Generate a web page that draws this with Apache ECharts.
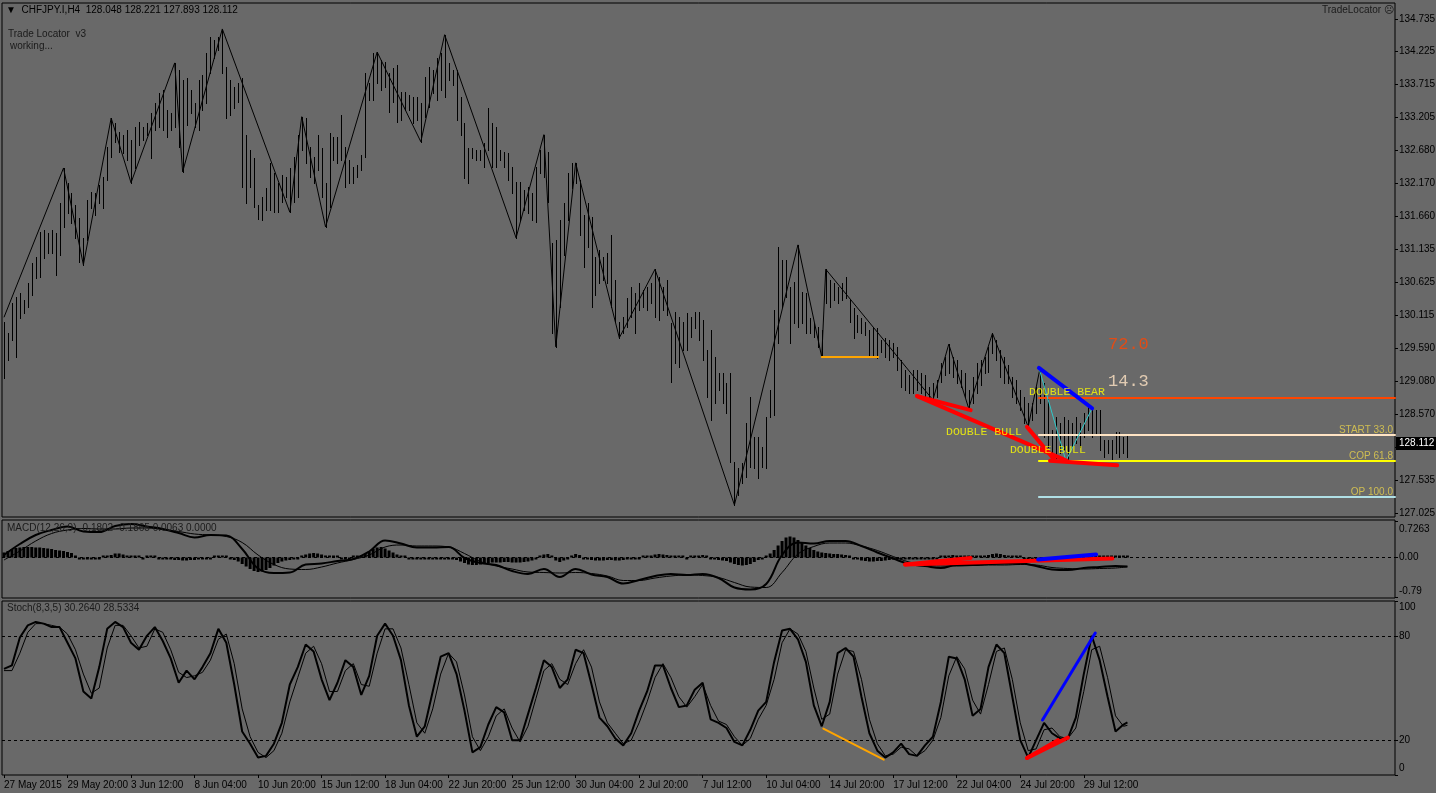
<!DOCTYPE html>
<html>
<head>
<meta charset="UTF-8">
<title>CHFJPY.I,H4</title>
<script src="https://cdn.jsdelivr.net/npm/echarts@6.0.0/dist/echarts.min.js"></script>
<style>
html, body { margin: 0; padding: 0; background: #696969; }
#main { width: 1436px; height: 793px; }
</style>
</head>
<body>
<div id="main"></div>
<script type="text/javascript">
// ---- price bars (H4), one entry per bar ----
var barHigh = [
130.01,129.83,130.30,130.40,130.46,130.35,130.62,130.93,131.02,131.41,
131.44,131.40,131.44,131.40,131.86,132.41,132.18,132.02,131.83,131.63,
131.32,131.91,132.04,132.02,132.14,132.27,132.74,133.19,133.11,132.97,
132.93,133.00,132.85,133.05,133.13,133.05,133.11,133.27,133.42,133.58,
133.63,133.32,133.27,134.05,133.94,133.78,133.81,133.63,133.42,133.78,
133.86,134.20,134.45,134.41,134.45,134.58,133.99,133.78,133.67,133.74,
133.81,132.93,132.69,132.57,131.83,131.96,132.10,132.49,132.33,132.18,
132.30,132.27,132.41,132.58,132.93,133.21,133.19,132.74,132.58,132.93,
132.72,132.18,132.96,132.89,132.89,133.24,132.74,132.53,132.43,132.46,
132.61,133.89,133.74,134.20,134.22,134.10,134.06,133.89,133.97,134.02,
133.60,133.60,133.55,133.52,133.52,133.42,133.83,133.99,133.94,134.13,
134.20,134.49,134.05,133.94,133.94,133.52,133.11,132.72,132.72,132.69,
132.69,132.80,133.35,133.11,133.05,132.69,132.66,132.64,132.43,132.19,
132.19,132.07,132.11,132.02,132.43,132.69,132.93,132.66,131.24,131.29,
131.60,131.86,132.33,132.49,132.49,132.22,131.68,131.86,131.64,131.02,
131.13,131.02,131.08,131.36,130.66,130.01,130.08,130.38,130.55,130.46,
130.62,130.51,130.55,130.62,130.83,130.71,130.55,130.66,129.99,130.16,
130.08,130.01,130.15,130.08,130.16,130.16,130.04,129.57,129.88,129.46,
129.21,129.21,129.05,129.21,127.82,127.73,127.81,128.43,128.84,128.21,
128.21,128.05,128.52,128.95,130.19,131.18,130.97,130.97,130.55,130.63,
131.21,130.47,130.46,130.07,129.99,129.93,129.88,130.83,130.66,130.62,
130.55,130.62,130.71,130.35,130.22,130.12,130.07,130.01,129.88,129.91,
129.91,129.73,129.76,129.73,129.68,129.62,129.41,129.26,129.18,129.26,
129.26,129.21,129.18,128.99,129.05,129.10,129.37,129.46,129.66,129.46,
129.41,129.26,129.21,128.95,129.15,129.37,129.41,129.46,129.62,129.83,
129.73,129.57,129.46,129.34,129.15,129.10,128.95,128.84,128.74,128.74,
128.99,129.29,129.05,128.84,128.32,128.52,128.43,128.52,128.48,128.43,
128.52,128.43,128.59,128.68,128.68,128.63,128.63,128.16,128.16,128.16,
128.29,128.29,128.21,128.221
];
var barLow = [
129.13,129.41,129.73,129.46,130.07,130.15,130.24,130.43,130.69,130.71,
131.01,131.08,131.08,130.74,131.05,131.49,131.71,131.55,131.32,130.94,
130.90,131.29,131.79,131.68,131.86,131.79,132.22,132.58,132.82,132.66,
132.64,132.53,132.18,132.41,132.77,132.85,132.93,132.57,133.00,133.05,
133.00,132.89,133.00,133.05,132.74,132.35,133.08,133.27,133.05,133.00,
133.32,133.42,133.89,134.13,134.25,133.89,133.19,133.24,133.35,133.44,
132.11,131.86,132.11,131.80,131.62,131.60,131.75,131.75,131.72,131.72,
131.88,131.96,131.72,131.88,131.96,132.69,132.49,132.27,132.18,132.38,
131.96,131.49,131.80,132.53,132.49,132.53,132.11,132.18,132.18,132.27,
132.38,132.58,133.47,133.47,133.74,133.63,133.67,133.28,133.44,133.13,
133.16,133.32,133.32,133.11,133.16,132.82,133.21,133.36,133.58,133.47,
133.63,133.52,133.78,133.71,133.16,132.93,132.25,132.18,132.57,132.53,
132.53,132.43,132.69,132.43,132.43,132.53,132.43,132.22,132.02,131.32,
131.60,131.75,131.71,131.60,131.57,132.33,132.27,131.88,129.83,129.62,
130.24,131.05,131.60,132.10,132.18,131.36,130.87,131.18,130.24,130.43,
130.62,130.66,130.62,130.24,130.01,129.76,129.83,129.93,130.08,129.83,
130.19,130.24,130.19,130.30,130.08,130.04,130.19,130.12,129.07,129.37,
129.30,129.57,129.57,129.77,129.91,129.73,129.41,128.84,128.48,128.74,
128.95,128.74,128.59,127.82,127.15,127.31,127.49,127.59,127.74,127.73,
127.57,127.74,127.73,128.52,128.55,129.68,130.24,130.40,129.68,129.99,
129.93,129.99,129.83,129.83,129.77,129.62,129.46,130.30,130.24,130.35,
130.30,130.35,130.38,130.01,129.76,129.85,129.83,129.80,129.46,129.46,
129.44,129.54,129.46,129.41,129.46,129.26,128.99,128.95,128.90,128.90,
128.95,128.90,128.79,128.79,128.79,128.84,129.07,129.18,129.21,129.15,
129.05,128.99,128.84,128.66,128.74,128.90,129.02,129.21,129.23,129.52,
129.41,129.15,129.05,129.05,128.84,128.74,128.63,128.43,128.37,128.48,
128.59,128.74,128.21,128.05,127.85,127.88,127.96,128.01,127.85,128.05,
128.12,128.05,128.21,128.32,128.21,128.27,128.01,127.90,127.96,127.85,
127.96,127.90,127.96,127.893
];
var lastPrice = 128.112;

// zigzag swing points: bar index and price
var zigIdx = [0,15,20,27,32,43,45,55,72,75,81,94,105,111,129,136,139,144,155,164,184,200,206,207,234,238,243,249,258,261];
var zigPrice = [130.08,132.41,130.90,133.19,132.18,134.05,132.35,134.58,131.72,133.21,131.49,134.22,132.82,134.49,131.32,132.93,129.62,132.49,129.76,130.83,127.15,131.21,129.46,130.83,128.79,129.66,128.66,129.83,128.37,129.29];

// Trade Locator levels (start bar, prices, labels)
var levelStart = 260.7;
var levelPrices = [128.82, 128.243, 127.837, 127.275];
var levelText = ['', 'START 33.0', 'COP 61.8', 'OP 100.0'];
var levelTextPrice = [null, 128.32, 127.915, 127.353];
var orangeLevel = [[206, 129.46], [220.2, 129.46]];

// pattern lines on the price panel
var redMain = [
  [[230, 128.85], [243.5, 128.63]],
  [[230, 128.85], [267.8, 127.84]],
  [[257.7, 128.37], [264.7, 127.85]],
  [[263.5, 127.84], [280.4, 127.77]]
];
var blueMain = [[260.7, 129.29], [274.1, 128.66]];
var cyanMain = [[260.7, 129.29], [267.5, 127.84], [274.1, 128.66]];

// text notes on the price panel
var noteText = ['72.0', '14.3', 'DOUBLE BEAR', 'DOUBLE BULL', 'DOUBLE BULL'];
var noteIdx = [278.1, 278.1, 258.2, 237.3, 253.4];
var notePrice = [129.65, 129.085, 128.913, 128.29, 128.01];

// price axis tick labels
var priceTicks = [127.025,127.535,128.045,128.570,129.080,129.590,130.115,130.625,131.135,131.660,132.170,132.680,133.205,133.715,134.225,134.735];

// time axis labels, one every 16 bars
var timeLabels = ['27 May 2015','29 May 20:00','3 Jun 12:00','8 Jun 04:00','10 Jun 20:00','15 Jun 12:00','18 Jun 04:00','22 Jun 20:00','25 Jun 12:00','30 Jun 04:00','2 Jul 20:00','7 Jul 12:00','10 Jul 04:00','14 Jul 20:00','17 Jul 12:00','22 Jul 04:00','24 Jul 20:00','29 Jul 12:00'];
var timeStep = 16;

// ---- MACD(12,26,9) ----
var macdHist = [
0.10,0.13,
0.17,0.19,0.20,0.21,0.21,0.21,0.20,0.20,0.19,0.18,0.17,
0.15,0.14,0.13,0.11,0.09,
0.04,-0.02,-0.03,-0.03,-0.02,-0.02,-0.01,0.00,0.02,
0.05,0.08,0.08,0.06,
0.03,0.01,0.00,0.00,-0.01,0.00,0.01,0.00,-0.01,
-0.02,-0.03,-0.04,-0.05,-0.05,-0.06,-0.06,-0.05,-0.05,-0.04,-0.04,-0.03,-0.02,0.01,0.02,
0.02,0.00,-0.03,-0.05,-0.08,
-0.13,-0.18,-0.23,-0.27,-0.29,-0.28,-0.25,-0.21,-0.16,
-0.11,-0.08,-0.06,-0.05,-0.04,-0.03,
0.02,0.06,0.08,0.09,0.08,0.06,
0.04,0.02,0.01,0.00,-0.01,-0.02,-0.01,0.01,0.02,0.03,
0.07,0.12,0.17,0.20,0.21,0.18,0.14,0.10,
0.06,0.03,0.00,-0.02,-0.03,-0.04,-0.04,-0.04,-0.03,-0.03,-0.02,-0.02,-0.02,-0.03,-0.04,-0.05,-0.08,
-0.11,-0.14,-0.15,-0.15,-0.14,
-0.12,-0.11,-0.10,-0.10,-0.10,-0.09,-0.09,-0.10,-0.10,-0.10,-0.09,-0.08,-0.06,-0.04,
0.02,0.06,0.07,
0.02,-0.06,-0.09,-0.06,-0.02,
0.03,0.07,0.05,
-0.02,-0.04,-0.05,-0.06,-0.06,-0.06,-0.05,-0.05,-0.06,-0.06,-0.05,-0.04,-0.03,
-0.02,-0.01,0.00,0.02,
0.04,0.06,0.07,0.06,0.05,0.04,
0.02,0.01,0.00,-0.01,0.00,
0.02,0.04,0.05,0.03,
-0.02,-0.04,-0.05,-0.06,-0.07,
-0.10,-0.13,-0.15,-0.16,-0.15,-0.13,-0.09,
-0.05,-0.02,0.01,
0.08,0.15,0.24,
0.33,0.40,0.42,0.40,0.35,0.29,
0.24,0.19,0.15,
0.12,0.10,0.09,0.08,0.07,0.07,0.06,0.05,0.03,
-0.01,-0.04,-0.06,-0.07,-0.08,-0.08,-0.07,-0.07,-0.06,
-0.05,-0.04,-0.03,-0.03,
-0.02,-0.02,-0.01,-0.01,-0.02,-0.02,-0.02,-0.01,-0.01,0.00,
0.02,0.04,0.05,0.04,
0.03,0.02,0.01,0.01,0.02,0.02,0.03,
0.05,0.07,0.08,0.07,0.05,
0.03,0.02,0.01,0.00,-0.01,-0.01,-0.02,-0.02,-0.03,-0.03,-0.03,-0.02,
-0.02,-0.01,-0.01,0.00,0.00,0.01,0.01,0.01,0.01,0.01,0.01,0.01,0.01,0.01,0.01,0.01,0.01,0.01,0.0063
];
// main and signal lines, read every 4th bar, then the last bar
var macdStep = 4;
var macdMain = [
0.05,0.27,0.45,0.55,0.62,0.52,0.51,0.63,0.67,0.62,
0.57,0.49,0.40,0.45,0.44,0.17,-0.22,-0.31,-0.30,-0.14,
-0.12,-0.07,-0.03,0.12,0.34,0.28,0.20,0.20,0.21,-0.01,
-0.11,-0.15,-0.27,-0.33,-0.23,-0.39,-0.23,-0.34,-0.39,-0.52,
-0.45,-0.37,-0.33,-0.35,-0.33,-0.41,-0.60,-0.64,-0.53,0.05,
0.30,0.28,0.33,0.33,0.23,0.10,-0.02,-0.13,-0.17,-0.21,
-0.15,-0.15,-0.13,-0.12,-0.12,-0.17,-0.24,-0.25,-0.21,-0.19,
-0.17
];
var macdSignal = [
-0.05,0.13,0.33,0.48,0.55,0.58,0.57,0.57,0.59,0.59,
0.56,0.52,0.47,0.45,0.42,0.30,0.05,-0.14,-0.23,-0.24,
-0.19,-0.11,-0.04,0.05,0.21,0.25,0.23,0.23,0.21,0.08,
-0.08,-0.17,-0.23,-0.29,-0.30,-0.31,-0.30,-0.32,-0.37,-0.46,
-0.46,-0.41,-0.37,-0.35,-0.36,-0.40,-0.50,-0.59,-0.60,-0.30,
0.07,0.22,0.29,0.29,0.23,0.14,0.02,-0.09,-0.15,-0.17,
-0.17,-0.16,-0.15,-0.15,-0.14,-0.15,-0.20,-0.22,-0.23,-0.22,
-0.21
];
var macdLast = [-0.1802, -0.1865];
var redMacd = [
  [[227, -0.14], [243.5, -0.01]],
  [[227, -0.14], [279.2, -0.02]]
];
var blueMacd = [[260.5, -0.04], [275.1, 0.06]];

// ---- Stochastic(8,3,5), read every 2nd bar, then the last bar ----
var stochStep = 2;
var stochK = [
61,63,79,86,88,87,85,85,76,67,
48,44,62,84,88,85,76,72,80,85,
77,67,53,60,55,62,70,84,76,52,
25,18,10,11,18,30,52,62,75,71,
55,43,53,66,62,46,57,80,87,80,
66,40,22,28,48,68,70,58,37,13,
16,29,39,36,20,20,35,50,66,62,
50,55,72,70,52,33,28,21,17,24,
37,48,63,63,50,39,40,49,53,32,
30,27,19,17,26,37,42,65,83,84,
78,65,40,28,42,70,73,68,45,24,
14,10,13,18,12,11,17,22,42,68,
67,55,34,38,62,75,70,45,20,10,
20,30,24,21,21,33,58,80,66,45,
25,29
];
var stochD = [
60,60,70,82,87,87,86,85,81,72,
58,47,50,73,86,86,80,73,74,84,
82,72,59,56,57,59,66,78,81,64,
38,22,13,10,14,24,42,56,70,74,
64,48,48,60,64,52,51,70,84,84,
73,52,30,24,38,58,70,65,46,22,
14,22,34,38,27,19,28,44,60,64,
55,52,64,72,62,42,30,24,18,20,
30,42,56,64,56,45,39,45,52,40,
31,29,22,17,21,32,40,55,76,84,
81,71,50,32,35,58,72,71,55,32,
18,11,12,16,15,11,14,20,33,57,
68,61,43,35,52,71,73,55,30,14,
15,26,27,22,21,27,48,72,74,56,
34,28
];
var stochLast = [30.264, 28.5334];
var redStoch = [
  [[257.7, 9.8], [265.5, 20]],
  [[257.7, 9.8], [268, 21.5]]
];
var blueStoch = [[261.6, 31.6], [274.9, 81.6]];
var orangeStoch = [[206.4, 26.7], [221.6, 8.8]];

// ---------------------------------------------------------------
var myChart = echarts.init(document.getElementById('main'));

var FONT = '"Liberation Sans", Arial, sans-serif';
var MONO = '"Liberation Mono", "DejaVu Sans Mono", monospace';
var X_MIN = -0.5, X_MAX = 350.4;
var lastIdx = barHigh.length - 1;

function sampled(values, step, last) {
  var out = values.map(function (v, k) { return [k * step, v]; });
  out.push([lastIdx, last]);
  return out;
}

function seg(points, color, width, xi, z) {
  return {
    type: 'line', xAxisIndex: xi, yAxisIndex: xi, data: points,
    symbol: 'none', silent: true, z: z || 5,
    lineStyle: { color: color, width: width, cap: 'round' }
  };
}

function renderBar(params, api) {
  var hi = api.coord([api.value(0), api.value(1)]);
  var lo = api.coord([api.value(0), api.value(2)]);
  var x = Math.round(hi[0]) + 0.5;
  return {
    type: 'line',
    shape: { x1: x, y1: Math.round(hi[1]), x2: x, y2: Math.round(lo[1]) + 1 },
    style: { stroke: '#000', lineWidth: 1 }
  };
}

var series = [];

// price bars
series.push({
  type: 'custom', xAxisIndex: 0, yAxisIndex: 0,
  renderItem: renderBar, encode: { x: 0, y: [1, 2] },
  data: barHigh.map(function (h, i) { return [i, h, barLow[i]]; }),
  silent: true, z: 2
});

// zigzag + current price tag
series.push({
  type: 'line', xAxisIndex: 0, yAxisIndex: 0, symbol: 'none', silent: true, z: 3,
  lineStyle: { color: '#000', width: 1 },
  data: zigIdx.map(function (x, k) { return [x, zigPrice[k]]; }),
  markLine: {
    silent: true, symbol: ['none', 'none'], z: 20,
    lineStyle: { color: 'rgba(0,0,0,0)', width: 1, type: 'solid' },
    label: {
      show: true, position: 'end', distance: 1, formatter: lastPrice.toFixed(3),
      color: '#fff', backgroundColor: '#000', padding: [2, 2, 1, 3],
      fontSize: 10, fontFamily: FONT
    },
    data: [{ yAxis: lastPrice }]
  }
});

// levels
var levelColors = ['#ff4500', '#ffe4c4', '#ffff00', '#b0e0e6'];
levelPrices.forEach(function (p, k) {
  series.push(seg([[levelStart, p], [X_MAX, p]], levelColors[k], 2, 0, 4));
});
series.push(seg(orangeLevel, '#ffa500', 2, 0, 4));

// pattern lines
series.push(seg(cyanMain, '#2ec8c8', 1, 0, 6));
redMain.forEach(function (l) { series.push(seg(l, '#ff0000', 4, 0, 7)); });
series.push(seg(blueMain, '#0000ff', 4, 0, 7));

// notes
var noteColors = ['#ff4500', '#ffe4c4', '#ffff00', '#ffff00', '#ffff00'];
var noteSizes = [17, 17, 11.5, 11.5, 11.5];
series.push({
  type: 'scatter', xAxisIndex: 0, yAxisIndex: 0, symbolSize: 0, silent: true, clip: false, z: 8,
  data: noteText.map(function (t, k) {
    return {
      value: [noteIdx[k], notePrice[k]],
      label: {
        show: true, position: 'right', distance: 0, formatter: t,
        color: noteColors[k], fontSize: noteSizes[k], fontFamily: MONO
      }
    };
  })
});
series.push({
  type: 'scatter', xAxisIndex: 0, yAxisIndex: 0, symbolSize: 0, silent: true, clip: false, z: 8,
  data: levelText.map(function (t, k) {
    return t ? {
      value: [X_MAX, levelTextPrice[k]],
      label: {
        show: true, position: 'left', distance: 2, formatter: t,
        color: '#e8d24e', fontSize: 10, fontFamily: FONT
      }
    } : null;
  }).filter(function (d) { return d; })
});

// MACD
series.push({
  type: 'bar', xAxisIndex: 1, yAxisIndex: 1, barWidth: 3, barMinHeight: 2,
  itemStyle: { color: '#000' }, silent: true, z: 2,
  data: macdHist.map(function (v, i) { return [i, v]; }),
  markLine: {
    silent: true, symbol: ['none', 'none'], label: { show: false },
    lineStyle: { color: '#000', width: 1, type: [3, 3] },
    data: [{ yAxis: 0 }]
  }
});
series.push({
  type: 'line', xAxisIndex: 1, yAxisIndex: 1, symbol: 'none', silent: true, smooth: 0.4, z: 3,
  lineStyle: { color: '#000', width: 2 }, data: sampled(macdMain, macdStep, macdLast[0])
});
series.push({
  type: 'line', xAxisIndex: 1, yAxisIndex: 1, symbol: 'none', silent: true, smooth: 0.4, z: 3,
  lineStyle: { color: '#000', width: 1 }, data: sampled(macdSignal, macdStep, macdLast[1])
});
redMacd.forEach(function (l) { series.push(seg(l, '#ff0000', 4, 1, 6)); });
series.push(seg(blueMacd, '#0000ff', 4, 1, 6));

// Stochastic
series.push({
  type: 'line', xAxisIndex: 2, yAxisIndex: 2, symbol: 'none', silent: true, z: 3,
  lineStyle: { color: '#000', width: 2 }, data: sampled(stochK, stochStep, stochLast[0]),
  markLine: {
    silent: true, symbol: ['none', 'none'], label: { show: false },
    lineStyle: { color: '#000', width: 1, type: [3, 3] },
    data: [{ yAxis: 80 }, { yAxis: 20 }]
  }
});
series.push({
  type: 'line', xAxisIndex: 2, yAxisIndex: 2, symbol: 'none', silent: true, z: 3,
  lineStyle: { color: '#000', width: 1 }, data: sampled(stochD, stochStep, stochLast[1])
});
series.push(seg(orangeStoch, '#ffa500', 2, 2, 6));
redStoch.forEach(function (l) { series.push(seg(l, '#ff0000', 4, 2, 6)); });
series.push(seg(blueStoch, '#0000ff', 3, 2, 6));

var axisFont = { color: '#000', fontSize: 10, fontFamily: FONT };
function gridBox(top, height) {
  return {
    left: 2, right: 41, top: top, height: height, outerBoundsMode: 'none', containLabel: false,
    show: true, borderColor: '#000', borderWidth: 1, backgroundColor: 'transparent'
  };
}
function hiddenX(i) {
  return { type: 'value', gridIndex: i, min: X_MIN, max: X_MAX, show: false, axisLine: { show: false, onZero: false } };
}
function rightTicks(values) {
  return { show: true, inside: false, length: 3, lineStyle: { color: '#000' }, customValues: values };
}
var timeTicks = timeLabels.map(function (t, k) { return k * timeStep; });

var option = {
  backgroundColor: '#696969',
  animation: false,
  grid: [gridBox(3, 514), gridBox(520, 78), gridBox(601, 174)],
  xAxis: [
    hiddenX(0), hiddenX(1),
    {
      type: 'value', gridIndex: 2, min: X_MIN, max: X_MAX, position: 'bottom',
      axisLine: { show: false, onZero: false }, splitLine: { show: false },
      axisTick: { show: true, inside: false, length: 3, lineStyle: { color: '#000' }, customValues: timeTicks },
      axisLabel: {
        customValues: timeTicks, align: 'left', margin: 5,
        color: '#000', fontSize: 10, fontFamily: FONT,
        formatter: function (v) { return timeLabels[Math.round(v / timeStep)]; }
      }
    }
  ],
  yAxis: [
    {
      type: 'value', gridIndex: 0, position: 'right', min: 126.963, max: 134.985,
      axisLine: { show: false, onZero: false }, splitLine: { show: false },
      axisTick: rightTicks(priceTicks),
      axisLabel: Object.assign({ customValues: priceTicks, margin: 4, formatter: function (v) { return v.toFixed(3); } }, axisFont)
    },
    {
      type: 'value', gridIndex: 1, position: 'right', min: -0.81, max: 0.75,
      axisLine: { show: false, onZero: false }, splitLine: { show: false },
      axisTick: rightTicks([-0.79, 0, 0.7263]),
      axisLabel: Object.assign({
        customValues: [-0.79, 0, 0.7263], margin: 4,
        formatter: function (v) {
          if (v > 0.5) return '{t|0.7263}';
          if (v < -0.5) return '{b|-0.79}';
          return '{m|0.00}';
        },
        rich: {
          t: Object.assign({ padding: [16, 0, 0, 0] }, axisFont),
          b: Object.assign({ padding: [0, 0, 12, 0] }, axisFont),
          m: Object.assign({}, axisFont)
        }
      }, axisFont)
    },
    {
      type: 'value', gridIndex: 2, position: 'right', min: 0, max: 100,
      axisLine: { show: false, onZero: false }, splitLine: { show: false },
      axisTick: rightTicks([0, 20, 80, 100]),
      axisLabel: Object.assign({
        customValues: [0, 20, 80, 100], margin: 4,
        formatter: function (v) {
          if (v === 100) return '{t|100}';
          if (v === 0) return '{b|0}';
          return '{m|' + v + '}';
        },
        rich: {
          t: Object.assign({ padding: [12, 0, 0, 0] }, axisFont),
          b: Object.assign({ padding: [0, 0, 14, 0] }, axisFont),
          m: Object.assign({}, axisFont)
        }
      }, axisFont)
    }
  ],
  graphic: [
    { type: 'text', left: 6, top: 5, silent: true,
      style: { text: '\u25BC  CHFJPY.I,H4  128.048 128.221 127.893 128.112', fill: '#000', fontSize: 10, fontFamily: FONT } },
    { type: 'text', left: 8, top: 29, silent: true,
      style: { text: 'Trade Locator  v3', fill: '#1a1a1a', fontSize: 10, fontFamily: FONT } },
    { type: 'text', left: 10, top: 41, silent: true,
      style: { text: 'working...', fill: '#1a1a1a', fontSize: 10, fontFamily: FONT } },
    { type: 'text', left: 1322, top: 5, silent: true,
      style: { text: 'TradeLocator \u2639', fill: '#1a1a1a', fontSize: 10, fontFamily: FONT } },
    { type: 'text', left: 7, top: 523, silent: true, z: 10,
      style: { text: 'MACD(12,26,9) -0.1802 -0.1865 0.0063 0.0000', fill: '#1a1a1a', fontSize: 10, fontFamily: FONT } },
    { type: 'text', left: 7, top: 603, silent: true,
      style: { text: 'Stoch(8,3,5) 30.2640 28.5334', fill: '#1a1a1a', fontSize: 10, fontFamily: FONT } }
  ],
  series: series
};

myChart.setOption(option);
</script>
</body>
</html>
